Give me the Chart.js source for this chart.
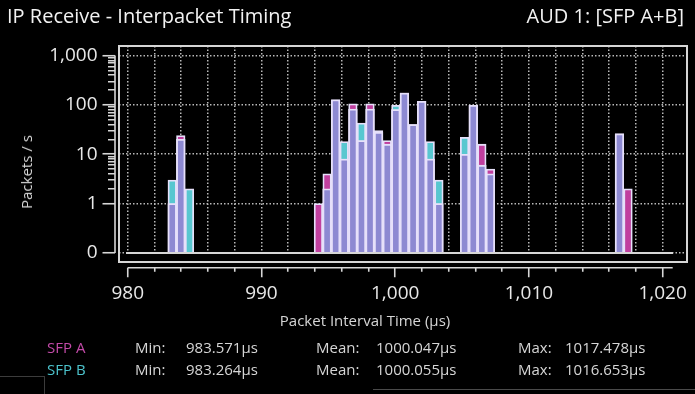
<!DOCTYPE html>
<html>
<head>
<meta charset="utf-8">
<script src="https://cdn.jsdelivr.net/npm/chart.js@4.4.1/dist/chart.umd.min.js"></script>
<style>
  html, body { margin: 0; padding: 0; background: #000; }
  #wrap { position: relative; width: 695px; height: 394px; background: #000; overflow: hidden;
          font-family: "Open Sans", sans-serif; color: #e4e4e4; }
  #wrap canvas { position: absolute; left: 0; top: 0; }
  .t { position: absolute; white-space: nowrap; }
  .head { font-size: 20px; line-height: 24px; top: 4px; color: #f2f2f2; }
  .axt { font-size: 15px; line-height: 20px; color: #d6d6d6; }
  .st { font-size: 15px; line-height: 20px; color: #d6d6d6; }
  .r1 { top: 337px; }
  .r2 { top: 359px; }
</style>
</head>
<body>
<div id="wrap">
  <canvas id="ipt" width="695" height="394"></canvas>
  <div class="t head" style="left:7px">IP Receive - Interpacket Timing</div>
  <div class="t head" style="right:11px">AUD 1: [SFP A+B]</div>
  <div class="t axt" style="left:26px; top:172px; transform: translate(-50%, -50%) rotate(-90deg);">Packets / s</div>
  <div class="t axt" style="left:365px; top:320px; transform: translate(-50%, -50%);">Packet Interval Time (µs)</div>

  <div class="t st r1" style="left:47px; color:#c24aa8">SFP A</div>
  <div class="t st r1" style="left:135px">Min:</div>
  <div class="t st r1" style="left:186px">983.571µs</div>
  <div class="t st r1" style="left:316px">Mean:</div>
  <div class="t st r1" style="left:376px">1000.047µs</div>
  <div class="t st r1" style="left:518px">Max:</div>
  <div class="t st r1" style="left:565px">1017.478µs</div>

  <div class="t st r2" style="left:47px; color:#4cc3cc">SFP B</div>
  <div class="t st r2" style="left:135px">Min:</div>
  <div class="t st r2" style="left:186px">983.264µs</div>
  <div class="t st r2" style="left:316px">Mean:</div>
  <div class="t st r2" style="left:376px">1000.055µs</div>
  <div class="t st r2" style="left:518px">Max:</div>
  <div class="t st r2" style="left:565px">1016.653µs</div>

  <div style="position:absolute; left:0; top:376px; width:44px; height:20px; border-top:1px solid #3c3c3c; border-right:1px solid #3c3c3c;"></div>
  <div style="position:absolute; left:373px; top:389px; width:330px; height:6px; border-top:1px solid #4a4a4a;"></div>
</div>

<script>
// histogram bin centres (µs)
const binCenters = [983.33, 983.97, 984.62,
  994.26, 994.91, 995.55, 996.19, 996.84, 997.48, 998.12, 998.76, 999.41,
  1000.05, 1000.69, 1001.34, 1001.98, 1002.62, 1003.27,
  1005.19, 1005.84, 1006.48, 1007.12,
  1016.77, 1017.41];

// packets / s per bin
const sfpA = [1, 24, null,
  1, 4, 127, 8, 105, 19, 105, 28, 19, 80, 173, 40, 118, 8, 1,
  10, 98, 16, 5,
  26, 2];
const sfpB = [3, 20, 2,
  null, 2, 127, 18, 82, 43, 82, 30, 16, 98, 173, 40, 118, 18, 3,
  22, 98, 6, 4,
  26, null];

const yTickValues = [0.1, 1, 10, 100, 1000];
const xLabelStep = 10;

// part where both SFPs overlap
const both = sfpA.map((a, i) => (a != null && sfpB[i] != null) ? Math.min(a, sfpB[i]) : null);

const edge = '#e6e0fa';
const gridCol = '#b9b9b9';
const axisCol = '#d6d6d6';

function isDecade(v) {
  const l = Math.log10(v);
  return Math.abs(l - Math.round(l)) < 1e-6 && v >= 0.099 && v <= 1001;
}
function isMinorLog(v) {
  if (v < 1 || v > 1000) return false;
  const m = v / Math.pow(10, Math.floor(Math.log10(v) + 1e-9));
  return Math.abs(m - Math.round(m)) < 1e-6;
}

const frame = {
  id: 'frame',
  beforeDatasetsDraw(chart) {
    const {ctx, chartArea: a, scales: {y}} = chart;
    const y0 = y.getPixelForValue(0.1);
    ctx.save();
    ctx.fillStyle = '#000';
    ctx.fillRect(a.left + 1, y0 + 1.5, a.right - a.left - 2, a.bottom - y0 - 2.5);
    ctx.restore();
  },
  afterDraw(chart) {
    const {ctx, chartArea: a, scales: {x, y}} = chart;
    const y0 = y.getPixelForValue(0.1);
    ctx.save();
    ctx.strokeStyle = axisCol;
    ctx.lineWidth = 2;
    // plot box
    ctx.strokeRect(a.left, a.top, a.right - a.left, a.bottom - a.top);
    // zero baseline
    ctx.beginPath();
    ctx.moveTo(a.left + 7, y0);
    ctx.lineTo(a.right - 14, y0);
    ctx.stroke();
    // y axis line
    ctx.lineWidth = 1.6;
    ctx.beginPath();
    ctx.moveTo(a.left - 4, y.getPixelForValue(1000));
    ctx.lineTo(a.left - 4, y0);
    ctx.stroke();
    // x axis line
    ctx.beginPath();
    ctx.moveTo(x.getPixelForValue(980), a.bottom + 5.8);
    ctx.lineTo(x.getPixelForValue(1020.75), a.bottom + 5.8);
    ctx.stroke();
    ctx.restore();
  }
};

const barBase = {
  grouped: false,
  base: 0.1,
  barPercentage: 1,
  categoryPercentage: 1,
  borderColor: edge,
  borderWidth: 1.8
};

new Chart(document.getElementById('ipt'), {
  type: 'bar',
  data: {
    labels: binCenters,
    datasets: [
      Object.assign({label: 'Both', data: both, backgroundColor: '#8d89d2'}, barBase),
      Object.assign({label: 'SFP A', data: sfpA, backgroundColor: '#c13f9f'}, barBase),
      Object.assign({label: 'SFP B', data: sfpB, backgroundColor: '#58c7d0'}, barBase)
    ]
  },
  options: {
    responsive: false,
    animation: false,
    devicePixelRatio: 1,
    layout: { padding: { left: 0, top: 46, right: 8, bottom: 82 } },
    plugins: { legend: { display: false }, tooltip: { enabled: false } },
    scales: {
      x: {
        type: 'linear',
        offset: false,
        min: 979.35,
        max: 1021.82,
        afterFit: s => { s.height = 50; },
        border: { display: false, dash: [1.5, 2] },
        grid: {
          offset: false,
          color: gridCol,
          lineWidth: 1.5,
          tickLength: 16,
          tickColor: axisCol,
          tickWidth: 1.6,
          tickBorderDash: c => (c.tick && c.tick.value % xLabelStep === 0) ? [0, 5.7, 9.5, 40] : [0, 5.7, 4, 40]
        },
        ticks: {
          stepSize: 2,
          includeBounds: false,
          autoSkip: false,
          maxRotation: 0,
          padding: 4,
          color: '#e8e8e8',
          font: { family: 'Open Sans', size: 19 },
          callback: v => v % xLabelStep === 0 ? v.toLocaleString('en-US') : ''
        }
      },
      y: {
        type: 'logarithmic',
        bounds: 'data',
        min: 0.0657,
        max: 1557,
        afterFit: s => { s.width = 119; },
        border: { display: false, dash: [1.5, 2] },
        grid: {
          color: c => (c.tick && isDecade(c.tick.value)) ? gridCol : 'transparent',
          lineWidth: 1.5,
          tickLength: 16.5,
          tickWidth: 1.6,
          tickColor: c => (c.tick && (isDecade(c.tick.value) || isMinorLog(c.tick.value))) ? axisCol : 'transparent',
          tickBorderDash: c => (c.tick && isDecade(c.tick.value)) ? [12.5, 40] : [0, 5.5, 7, 40]
        },
        ticks: {
          autoSkip: false,
          padding: 5,
          color: '#e8e8e8',
          font: { family: 'Open Sans', size: 19 },
          callback: v => {
            const hit = yTickValues.find(t => Math.abs(Math.log10(v) - Math.log10(t)) < 1e-6);
            if (hit === undefined) return '';
            return hit === 0.1 ? '0' : hit.toLocaleString('en-US');
          }
        }
      }
    }
  },
  plugins: [frame]
});
</script>
</body>
</html>
